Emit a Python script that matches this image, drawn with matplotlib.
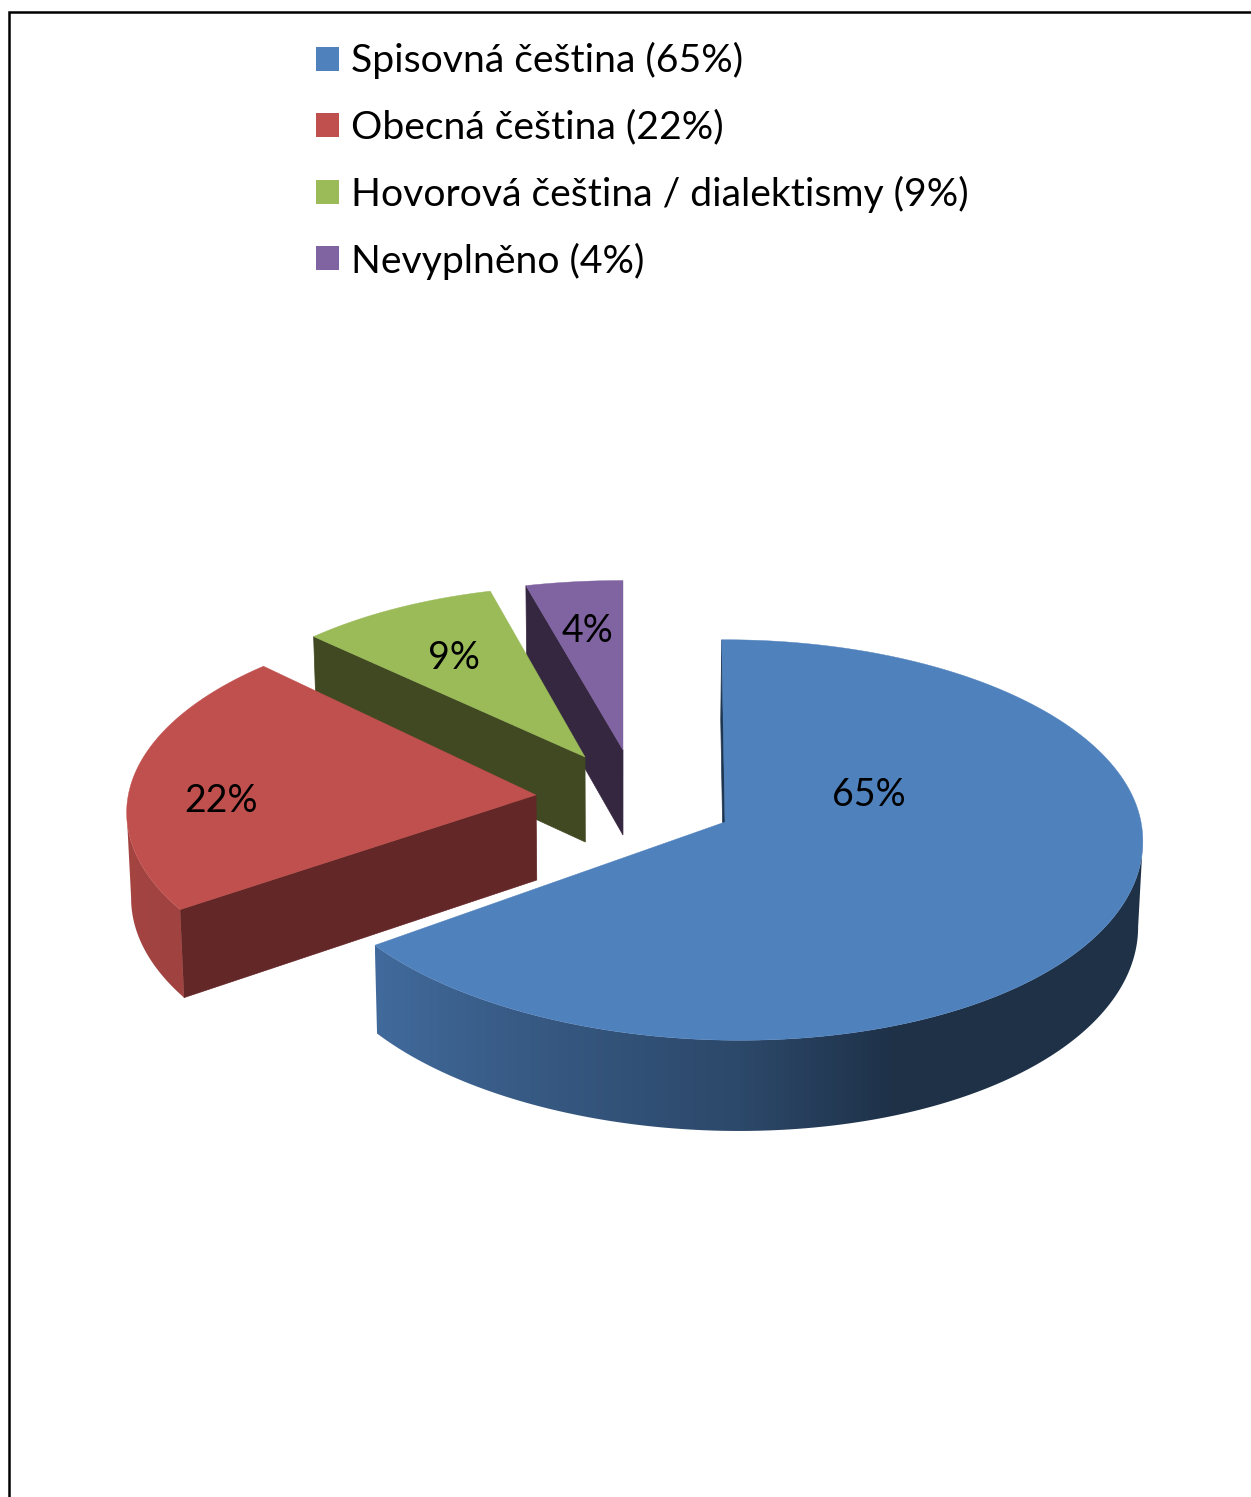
import numpy as np
import matplotlib
matplotlib.use('Agg')
import matplotlib.pyplot as plt
from matplotlib.patches import Polygon, Rectangle

plt.rcParams['font.family'] = ['Lato', 'DejaVu Sans']

# data
categories = ['Spisovná čeština', 'Obecná čeština', 'Hovorová čeština / dialektismy', 'Nevyplněno']
values = [65, 22, 9, 4]
colors = ['#4f81bd', '#c0504d', '#9bbb59', '#8064a2']
cut_colors = ['#1f3650', '#622726', '#404922', '#362741']

# every slice has its own apex (exploded) and small scale change for the perspective
apexes = [(725, 822), (536, 795), (585, 757), (623, 750)]
scales = [(1.0, 1.0), (0.98, 0.98), (0.95, 0.94), (1.0, 0.93)]
start_shift = [-0.5, 2, 0, -0.3]
end_shift = [0, 1.5, -0.7, 0]
front_skew = [15, 0, 0, 0]
label_pos = [(869, 795), (221, 801), (454, 658), (587, 631)]
legend_y = [59, 125, 192, 258]
legend_base = [72, 138, 206, 273]

R = 416
TILT = 0.4775
PERSP = 0.09
DEPTH = 85
VANISH_X = 620

# wall shading by clock angle
shade_angles = [120, 160, 180, 234, 300]
shade_factors = [0.38, 0.38, 0.56, 0.83, 0.9]


def rim(theta_deg, sx, sy, skew):
    # theta is clockwise from the top, returns offsets from the apex in pixels
    t = np.radians(theta_deg)
    X = np.sin(t)
    Y = -np.cos(t)
    w = 1 - PERSP * Y
    return R * X / w * sx + skew * np.clip(Y, 0, 1) ** 2, R * TILT * Y / w * sy


def lower(x, y, apex_y):
    # same point on the bottom surface of the slice
    return VANISH_X + (x - VANISH_X) * 0.991, apex_y + (y - apex_y) * 1.026 + DEPTH


fig = plt.figure(figsize=(12.51, 14.97), dpi=100)
ax = fig.add_axes([0, 0, 1, 1])

# frame, only left and top are inside the page
ax.plot([9, 9, 1251], [1497, 12, 12], color='black', lw=1.8, solid_joinstyle='miter')

# slices drawn back to front
starts = np.concatenate([[0], np.cumsum(values)[:-1]]) * 3.6
z = 2
for i in [3, 2, 1, 0]:
    start = starts[i] + start_shift[i]
    end = starts[i] + values[i] * 3.6 + end_shift[i]
    x0, y0 = apexes[i]
    sx, sy = scales[i]
    angles = np.append(np.arange(start, end, 0.5), end)
    dx, dy = rim(angles, sx, sy, front_skew[i])
    xs = x0 + dx
    ys = y0 + dy
    bx, by = lower(xs, ys, y0)

    # cut face at the start edge
    abx, aby = lower(x0, y0, y0)
    ax.add_patch(Polygon([(x0, y0), (xs[0], ys[0]), (bx[0], by[0]), (abx, aby)],
                         closed=True, fc=cut_colors[i], ec=cut_colors[i], lw=0.5, zorder=z))

    # outer wall between the two silhouette points (right-most and left-most on the rim)
    idx = np.where((angles >= 70) & (angles <= 290))[0]
    if len(idx) > 0:
        idx = idx[np.argmax(xs[idx]):np.argmin(xs[idx]) + 1]
        fx = xs[idx]
        fb = bx[idx]
        wall = Polygon(list(zip(fx, ys[idx])) + list(zip(fb[::-1], by[idx][::-1])),
                       closed=True, fc='none', ec='none', transform=ax.transData)
        ax.add_patch(wall)
        left, right = min(fx.min(), fb.min()), max(fx.max(), fb.max())
        top_y, bot_y = ys[idx].min(), by[idx].max()
        grid = np.linspace(left, right, 800)
        shade = np.interp(angles[idx], shade_angles, shade_factors)
        fac = np.interp(grid, fx[::-1], shade[::-1])
        rgb = np.array(matplotlib.colors.to_rgb(colors[i]))
        img = (fac[:, None] * rgb)[None, :, :]
        im = ax.imshow(img, extent=(left, right, bot_y, top_y), aspect='auto',
                       interpolation='bilinear', zorder=z + 1)
        im.set_clip_path(wall)

    # top surface
    top = [(x0, y0)] + list(zip(xs, ys))
    ax.add_patch(Polygon(top, closed=True, fc=colors[i], ec=colors[i], lw=0.3, zorder=z + 2))
    ax.text(label_pos[i][0], label_pos[i][1], f'{values[i]}%', fontsize=27, color='black',
            ha='center', va='center', zorder=20)
    z += 3

# legend
for i, name in enumerate(categories):
    ax.add_patch(Rectangle((316, legend_y[i] - 12), 23, 24, fc=colors[i], ec='none'))
    ax.text(351, legend_base[i], f'{name} ({values[i]}%)', fontsize=28.2, color='black',
            ha='left', va='baseline')

ax.set_xlim(0, 1251)
ax.set_ylim(1497, 0)
ax.axis('off')

fig.savefig('out.png', dpi=100)
